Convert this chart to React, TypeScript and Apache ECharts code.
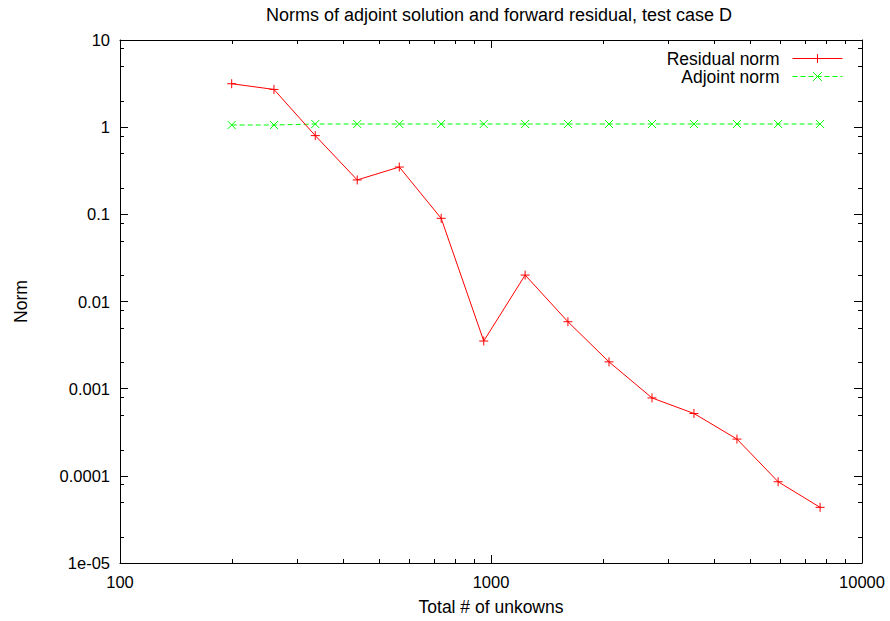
import React, { useEffect, useRef } from "react";
import * as echarts from "echarts";

// Problem sizes (total number of unknowns) for each refinement step
const unknowns = [200, 260, 336, 436, 566, 734, 956, 1236, 1612, 2080, 2716, 3524, 4602, 5942, 7710];
// Forward residual norm per refinement step
const residualNorm = [3.15, 2.71, 0.8, 0.248, 0.349, 0.09, 0.00352, 0.0201, 0.00586, 0.00203, 0.000783, 0.000519, 0.000264, 8.55e-5, 4.35e-5];
// Adjoint solution norm per refinement step
const adjointNorm = [1.059, 1.059, 1.087, 1.087, 1.087, 1.087, 1.087, 1.087, 1.087, 1.087, 1.087, 1.087, 1.087, 1.087, 1.087];

// Tick labels, one per decade
const xTickLabels = ["100", "1000", "10000"];
const yTickLabels = ["1e-05", "0.0001", "0.001", "0.01", "0.1", "1", "10"];

// Minor tick positions
const xMinorTicks = [200, 300, 400, 500, 600, 700, 800, 900, 2000, 3000, 4000, 5000, 6000, 7000, 8000, 9000];
const yMinorTicks = [2e-5, 5e-5, 8e-5, 2e-4, 5e-4, 8e-4, 2e-3, 5e-3, 8e-3, 2e-2, 5e-2, 8e-2, 0.2, 0.5, 0.8, 2, 5, 8];

const FONT = "'Liberation Sans', Arial, Helvetica, sans-serif";
const FS_TICK = 16.5;
const FS_TEXT = 17.5;

const RED = "#ff0000";
const GREEN = "#00ff00";
const DASH = [5, 3];

const PLUS = "path://M0,5L10,5M5,0L5,10";
const CROSS = "path://M0,0L10,10M10,0L0,10";

function crisp(v: number) {
  return Math.round(v) + 0.5;
}

export default function App() {
  const ref = useRef<HTMLDivElement>(null);

  useEffect(() => {
    if (!ref.current) return;
    document.body.style.margin = "0";
    const chart = echarts.init(ref.current, undefined, { renderer: "svg" });

    const axisCommon = {
      type: "log" as const,
      logBase: 10,
      axisLine: { show: true, lineStyle: { color: "#000", width: 1 } },
      axisTick: { show: true, inside: true, length: 8, lineStyle: { color: "#000", width: 1 } },
      splitLine: { show: false },
      minorTick: { show: false },
      minorSplitLine: { show: false },
    };

    const legendCommon = {
      right: 47,
      padding: 0,
      orient: "vertical",
      align: "right",
      itemWidth: 50,
      itemHeight: 11,
      selectedMode: false,
      textStyle: {
        fontFamily: FONT,
        fontSize: FS_TEXT,
        lineHeight: 16,
        color: "#000",
        padding: [0, 8, 0, 0],
      },
    };

    const option: any = {
      animation: false,
      backgroundColor: "#fff",
      textStyle: { fontFamily: FONT },
      title: {
        text: "Norms of adjoint solution and forward residual, test case D",
        left: 499,
        top: 6,
        padding: 0,
        textAlign: "center",
        textStyle: { fontFamily: FONT, fontSize: 18, fontWeight: "normal", color: "#000" },
      },
      grid: { left: 120, right: 28, top: 40, bottom: 55, containLabel: false },
      legend: [
        {
          ...legendCommon,
          data: ["Residual norm"],
          top: 49.5,
          lineStyle: { color: RED, width: 1, type: "solid" },
          itemStyle: { color: RED, borderColor: RED, borderWidth: 1 },
        },
        {
          ...legendCommon,
          data: ["Adjoint norm"],
          top: 67.5,
          lineStyle: { color: GREEN, width: 1, type: DASH },
          itemStyle: { color: GREEN, borderColor: GREEN, borderWidth: 1 },
        },
      ],
      xAxis: [
        {
          ...axisCommon,
          position: "bottom",
          min: 100,
          max: 10000,
          splitNumber: 2,
          name: "Total # of unkowns",
          nameLocation: "middle",
          nameGap: 35,
          nameTextStyle: { fontFamily: FONT, fontSize: FS_TEXT, color: "#000" },
          axisLabel: {
            margin: 10,
            fontFamily: FONT,
            fontSize: FS_TICK,
            color: "#000",
            formatter: (v: number) => xTickLabels[Math.round(Math.log10(v)) - 2],
          },
        },
        {
          ...axisCommon,
          position: "top",
          min: 100,
          max: 10000,
          splitNumber: 2,
          axisLabel: { show: false },
        },
      ],
      yAxis: [
        {
          ...axisCommon,
          position: "left",
          min: 1e-5,
          max: 10,
          splitNumber: 6,
          name: "Norm",
          nameLocation: "middle",
          nameGap: 90,
          nameRotate: 90,
          nameTextStyle: { fontFamily: FONT, fontSize: FS_TEXT, color: "#000" },
          axisLabel: {
            margin: 10,
            fontFamily: FONT,
            fontSize: FS_TICK,
            color: "#000",
            formatter: (v: number) => yTickLabels[Math.round(Math.log10(v)) + 5],
          },
        },
        {
          ...axisCommon,
          position: "right",
          min: 1e-5,
          max: 10,
          splitNumber: 6,
          axisLabel: { show: false },
        },
      ],
      series: [
        {
          name: "xMinor",
          type: "custom",
          xAxisIndex: 0,
          yAxisIndex: 0,
          silent: true,
          clip: false,
          data: xMinorTicks.map((v) => [v, 1]),
          renderItem: (params: any, api: any) => {
            const cs = params.coordSys;
            const x = crisp(api.coord([api.value(0), 1])[0]);
            const bottom = cs.y + cs.height;
            const style = { stroke: "#000", lineWidth: 1 };
            return {
              type: "group",
              children: [
                { type: "line", shape: { x1: x, y1: bottom, x2: x, y2: bottom - 4 }, style },
                { type: "line", shape: { x1: x, y1: cs.y, x2: x, y2: cs.y + 4 }, style },
              ],
            };
          },
        },
        {
          name: "yMinor",
          type: "custom",
          xAxisIndex: 0,
          yAxisIndex: 0,
          silent: true,
          clip: false,
          data: yMinorTicks.map((v) => [100, v]),
          renderItem: (params: any, api: any) => {
            const cs = params.coordSys;
            const y = crisp(api.coord([100, api.value(1)])[1]);
            const right = cs.x + cs.width;
            const style = { stroke: "#000", lineWidth: 1 };
            return {
              type: "group",
              children: [
                { type: "line", shape: { x1: cs.x, y1: y, x2: cs.x + 4, y2: y }, style },
                { type: "line", shape: { x1: right, y1: y, x2: right - 4, y2: y }, style },
              ],
            };
          },
        },
        {
          name: "Residual norm",
          type: "line",
          xAxisIndex: 0,
          yAxisIndex: 0,
          data: unknowns.map((u, i) => [u, residualNorm[i]]),
          symbol: PLUS,
          symbolSize: 9,
          showSymbol: true,
          lineStyle: { color: RED, width: 1 },
          itemStyle: { color: RED, borderColor: RED, borderWidth: 1 },
          emphasis: { disabled: true },
          z: 3,
        },
        {
          name: "Adjoint norm",
          type: "line",
          xAxisIndex: 0,
          yAxisIndex: 0,
          data: unknowns.map((u, i) => [u, adjointNorm[i]]),
          symbol: CROSS,
          symbolSize: 8,
          showSymbol: true,
          lineStyle: { color: GREEN, width: 1, type: DASH },
          itemStyle: { color: GREEN, borderColor: GREEN, borderWidth: 1 },
          emphasis: { disabled: true },
          z: 2,
        },
      ],
    };

    chart.setOption(option);
    return () => chart.dispose();
  }, []);

  return <div ref={ref} style={{ position: "absolute", left: 0, top: 0, width: 890, height: 621 }} />;
}
